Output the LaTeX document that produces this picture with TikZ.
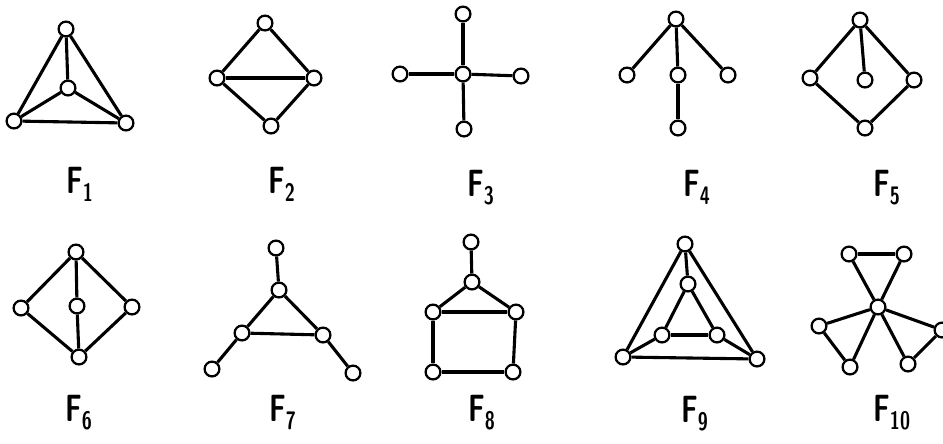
\documentclass[tikz,border=0pt]{standalone}
\usepackage{graphicx}
\newcommand{\flab}[1]{\scalebox{0.72}[1]{F\raisebox{-6pt}{\fontsize{18}{18}\selectfont #1}}}

\begin{document}
\begin{tikzpicture}[
    x=0.025cm, y=-0.025cm,
    v/.style={draw, circle, fill=white, line width=1.6pt, minimum size=0.37cm, inner sep=0pt},
    e/.style={line width=2.2pt},
    lab/.style={anchor=base west, inner sep=0pt, font=\fontsize{27}{27}\selectfont\sffamily\bfseries}
  ]
    \useasboundingbox (0,0) rectangle (943,443);

    % F1
    \node[v] (f1t) at (66,29) {};
    \node[v] (f1c) at (68,88) {};
    \node[v] (f1l) at (14,121) {};
    \node[v] (f1r) at (126,123) {};
    \draw[e] (f1t) -- (f1c);
    \draw[e] (f1t) -- (f1l);
    \draw[e] (f1t) -- (f1r);
    \draw[e] (f1c) -- (f1l);
    \draw[e] (f1c) -- (f1r);
    \draw[e] (f1l) -- (f1r);
    \node[lab] (n1) at (66,193) {\flab{1}};

    % F2
    \node[v] (f2t) at (265,23) {};
    \node[v] (f2l) at (217,78) {};
    \node[v] (f2r) at (314,78) {};
    \node[v] (f2b) at (271,126) {};
    \draw[e] (f2t) -- (f2l);
    \draw[e] (f2t) -- (f2r);
    \draw[e] (f2l) -- (f2r);
    \draw[e] (f2l) -- (f2b);
    \draw[e] (f2r) -- (f2b);
    \node[lab] (n2) at (268,193) {\flab{2}};

    % F3
    \node[v] (f3t) at (463,14) {};
    \node[v] (f3c) at (463,74) {};
    \node[v] (f3l) at (400,74) {};
    \node[v] (f3r) at (521,76) {};
    \node[v] (f3b) at (464,129) {};
    \draw[e] (f3c) -- (f3t);
    \draw[e] (f3c) -- (f3l);
    \draw[e] (f3c) -- (f3r);
    \draw[e] (f3c) -- (f3b);
    \node[lab] (n3) at (467,196) {\flab{3}};

    % F4
    \node[v] (f4t) at (676,19) {};
    \node[v] (f4l) at (627,75) {};
    \node[v] (f4m) at (678,75) {};
    \node[v] (f4r) at (728,75) {};
    \node[v] (f4b) at (678,128) {};
    \draw[e] (f4t) -- (f4l);
    \draw[e] (f4t) -- (f4m);
    \draw[e] (f4m) -- (f4b);
    \draw[e] (f4t) -- (f4r);
    \node[lab] (n4) at (683,196) {\flab{4}};

    % F5
    \node[v] (f5t) at (860,20) {};
    \node[v] (f5l) at (810,78) {};
    \node[v] (f5c) at (865,80) {};
    \node[v] (f5r) at (914,80) {};
    \node[v] (f5b) at (865,128) {};
    \draw[e] (f5t) -- (f5l);
    \draw[e] (f5t) -- (f5c);
    \draw[e] (f5t) -- (f5r);
    \draw[e] (f5l) -- (f5b);
    \draw[e] (f5r) -- (f5b);
    \node[lab] (n5) at (873,196) {\flab{5}};

    % F6
    \node[v] (f6t) at (76,252) {};
    \node[v] (f6l) at (21,308) {};
    \node[v] (f6c) at (77,306) {};
    \node[v] (f6r) at (132,307) {};
    \node[v] (f6b) at (79,357) {};
    \draw[e] (f6t) -- (f6l);
    \draw[e] (f6t) -- (f6c);
    \draw[e] (f6c) -- (f6b);
    \draw[e] (f6t) -- (f6r);
    \draw[e] (f6l) -- (f6b);
    \draw[e] (f6r) -- (f6b);
    \node[lab] (n6) at (65,421) {\flab{6}};

    % F7
    \node[v] (f7t) at (276,248) {};
    \node[v] (f7m) at (279,290) {};
    \node[v] (f7l) at (242,333) {};
    \node[v] (f7r) at (323,335) {};
    \node[v] (f7bl) at (212,369) {};
    \node[v] (f7br) at (353,373) {};
    \draw[e] (f7t) -- (f7m);
    \draw[e] (f7m) -- (f7l);
    \draw[e] (f7m) -- (f7r);
    \draw[e] (f7l) -- (f7r);
    \draw[e] (f7l) -- (f7bl);
    \draw[e] (f7r) -- (f7br);
    \node[lab] (n7) at (269,421) {\flab{7}};

    % F8
    \node[v] (f8t) at (471,242) {};
    \node[v] (f8m) at (472,282) {};
    \node[v] (f8l) at (433,312) {};
    \node[v] (f8r) at (516,312) {};
    \node[v] (f8bl) at (433,372) {};
    \node[v] (f8br) at (513,372) {};
    \draw[e] (f8t) -- (f8m);
    \draw[e] (f8m) -- (f8l);
    \draw[e] (f8m) -- (f8r);
    \draw[e] (f8l) -- (f8r);
    \draw[e] (f8l) -- (f8bl);
    \draw[e] (f8r) -- (f8br);
    \draw[e] (f8bl) -- (f8br);
    \node[lab] (n8) at (468,421) {\flab{8}};

    % F9
    \node[v] (f9ot) at (685,244) {};
    \node[v] (f9it) at (688,284) {};
    \node[v] (f9il) at (662,335) {};
    \node[v] (f9ir) at (717,335) {};
    \node[v] (f9ol) at (623,357) {};
    \node[v] (f9or) at (757,359) {};
    \draw[e] (f9ot) -- (f9it);
    \draw[e] (f9ot) -- (f9ol);
    \draw[e] (f9ot) -- (f9or);
    \draw[e] (f9ol) -- (f9or);
    \draw[e] (f9it) -- (f9il);
    \draw[e] (f9it) -- (f9ir);
    \draw[e] (f9il) -- (f9ir);
    \draw[e] (f9il) -- (f9ol);
    \draw[e] (f9ir) -- (f9or);
    \node[lab] (n9) at (681,422) {\flab{9}};

    % F10
    \node[v] (f10c) at (878,307) {};
    \node[v] (f10tl) at (849,254) {};
    \node[v] (f10tr) at (904,254) {};
    \node[v] (f10l) at (819,326) {};
    \node[v] (f10bl) at (850,367) {};
    \node[v] (f10br) at (908,364) {};
    \node[v] (f10r) at (942,330) {};
    \draw[e] (f10c) -- (f10tl);
    \draw[e] (f10c) -- (f10tr);
    \draw[e] (f10tl) -- (f10tr);
    \draw[e] (f10c) -- (f10l);
    \draw[e] (f10c) -- (f10bl);
    \draw[e] (f10l) -- (f10bl);
    \draw[e] (f10c) -- (f10br);
    \draw[e] (f10c) -- (f10r);
    \draw[e] (f10r) -- (f10br);
    \node[lab] (n10) at (873,421) {\flab{10}};
\end{tikzpicture}
\end{document}
